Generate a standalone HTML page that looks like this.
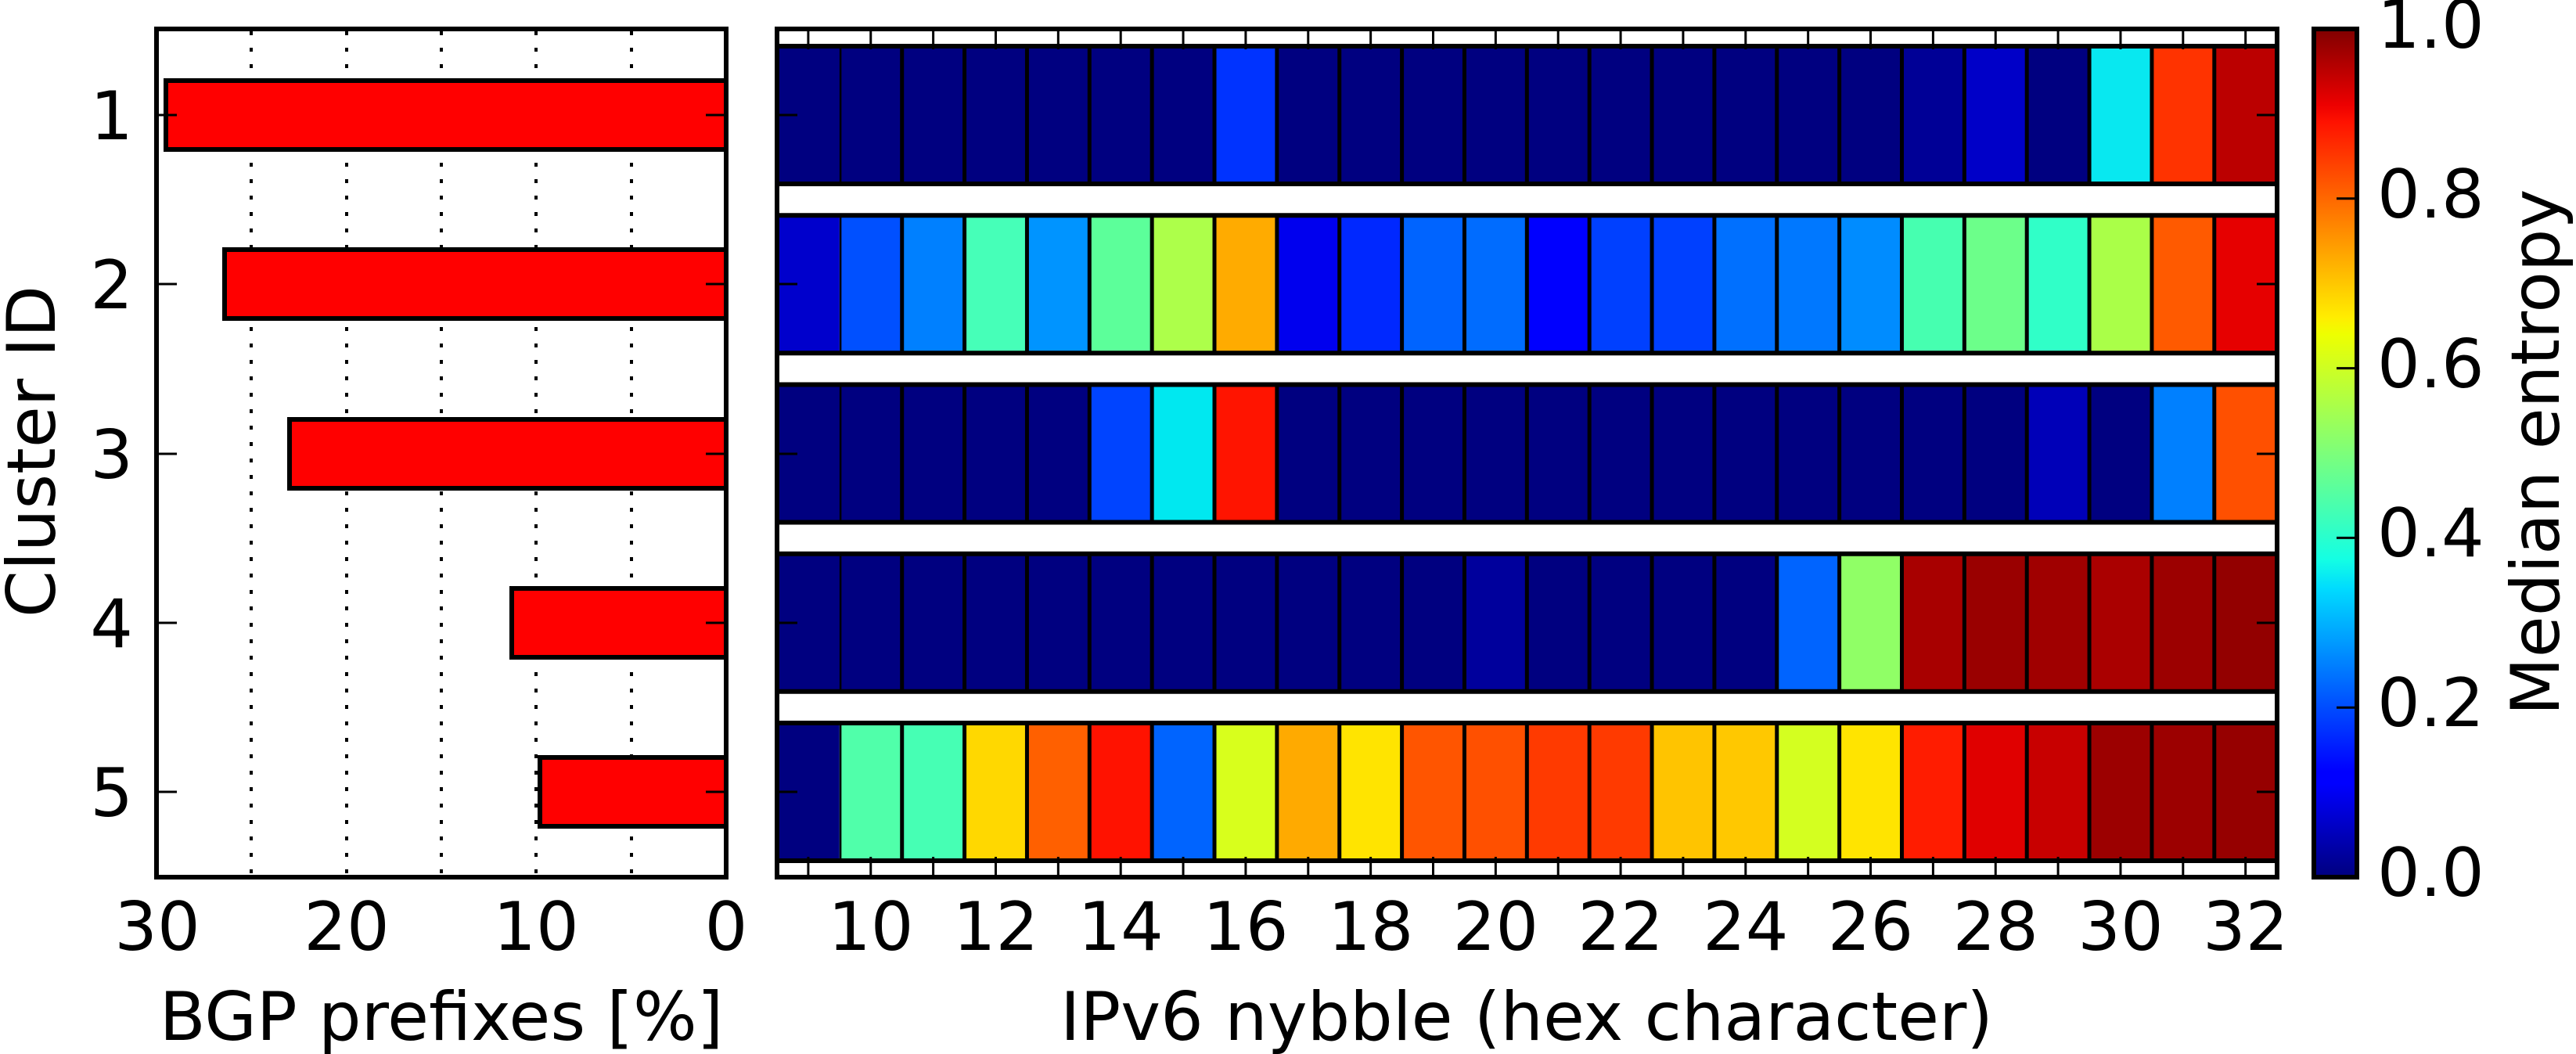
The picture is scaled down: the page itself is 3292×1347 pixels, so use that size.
<!DOCTYPE html>
<html><head><meta charset="utf-8"><style>
html,body{margin:0;padding:0;background:#fff;}
svg{display:block;}
text{font-family:"DejaVu Sans","Liberation Sans",sans-serif;font-size:86px;fill:#000;}
</style></head><body>
<svg width="3292" height="1347" viewBox="0 0 3292 1347" xmlns="http://www.w3.org/2000/svg">
<defs>
<linearGradient id="jet" x1="0" y1="1" x2="0" y2="0">
<stop offset="0" stop-color="#00007f"/><stop offset="0.11" stop-color="#0000ff"/><stop offset="0.125" stop-color="#0000ff"/>
<stop offset="0.34" stop-color="#00dbff"/><stop offset="0.375" stop-color="#14ffe3"/><stop offset="0.5" stop-color="#7dff7a"/>
<stop offset="0.64" stop-color="#eeff00"/><stop offset="0.66" stop-color="#ffed00"/><stop offset="0.89" stop-color="#ff1200"/>
<stop offset="0.91" stop-color="#ed0000"/><stop offset="1" stop-color="#800000"/>
</linearGradient>
</defs>

<!-- LEFT PANEL -->
<g stroke="#000" stroke-width="4" stroke-dasharray="5 16">
<line x1="321" y1="40" x2="321" y2="1118"/><line x1="443" y1="40" x2="443" y2="1118"/>
<line x1="564" y1="40" x2="564" y2="1118"/><line x1="685" y1="40" x2="685" y2="1118"/>
<line x1="807" y1="40" x2="807" y2="1118"/>
</g>
<g fill="#ff0000" stroke="#000" stroke-width="6">
<rect x="212" y="103" width="716" height="88"/>
<rect x="287" y="319" width="641" height="88"/>
<rect x="370" y="536" width="558" height="88"/>
<rect x="654" y="752" width="274" height="88"/>
<rect x="690" y="968" width="238" height="88"/>
</g>
<g stroke="#000" stroke-width="3">
<line x1="200" y1="147" x2="226" y2="147"/><line x1="200" y1="363" x2="226" y2="363"/><line x1="200" y1="580" x2="226" y2="580"/><line x1="200" y1="796" x2="226" y2="796"/><line x1="200" y1="1012" x2="226" y2="1012"/>
<line x1="902" y1="147" x2="928" y2="147"/><line x1="902" y1="363" x2="928" y2="363"/><line x1="902" y1="580" x2="928" y2="580"/><line x1="902" y1="796" x2="928" y2="796"/><line x1="902" y1="1012" x2="928" y2="1012"/>
</g>
<rect x="200" y="37" width="728" height="1084" fill="none" stroke="#000" stroke-width="6"/>
<g text-anchor="end">
<text x="170" y="178">1</text><text x="170" y="394">2</text><text x="170" y="611">3</text><text x="170" y="827">4</text><text x="170" y="1043">5</text>
</g>
<g text-anchor="middle">
<text x="201" y="1214">30</text><text x="443" y="1214">20</text><text x="685" y="1214">10</text><text x="928" y="1214">0</text>
<text x="564" y="1329">BGP prefixes [%]</text>
</g>
<text transform="translate(70,577) rotate(-90)" text-anchor="middle">Cluster ID</text>

<!-- HEATMAP -->
<g transform="translate(993,0) scale(79.86,1)">
<g transform="translate(0,59)">
<rect x="0" width="7" height="176" fill="#000080"/><rect x="7" width="1" height="176" fill="#0033ff"/>
<rect x="8" width="10" height="176" fill="#000080"/><rect x="18" width="1" height="176" fill="#000096"/>
<rect x="19" width="1" height="176" fill="#0000c8"/><rect x="20" width="1" height="176" fill="#000080"/>
<rect x="21" width="1" height="176" fill="#08e8f0"/><rect x="22" width="1" height="176" fill="#ff3300"/>
<rect x="23" width="1" height="176" fill="#bb0000"/>
</g>
<g transform="translate(0,275.25)">
<rect x="0" width="1" height="176" fill="#0000cc"/><rect x="1" width="1" height="176" fill="#0050ff"/>
<rect x="2" width="1" height="176" fill="#0080ff"/><rect x="3" width="1" height="176" fill="#46ffb8"/>
<rect x="4" width="1" height="176" fill="#0094ff"/><rect x="5" width="1" height="176" fill="#5cff9a"/>
<rect x="6" width="1" height="176" fill="#adff4a"/><rect x="7" width="1" height="176" fill="#ffab00"/>
<rect x="8" width="1" height="176" fill="#0000ee"/><rect x="9" width="1" height="176" fill="#0028ff"/>
<rect x="10" width="1" height="176" fill="#0064ff"/><rect x="11" width="1" height="176" fill="#006cff"/>
<rect x="12" width="1" height="176" fill="#0000ff"/><rect x="13" width="1" height="176" fill="#0040ff"/>
<rect x="14" width="1" height="176" fill="#0040ff"/><rect x="15" width="1" height="176" fill="#0070ff"/>
<rect x="16" width="1" height="176" fill="#0078ff"/><rect x="17" width="1" height="176" fill="#008cff"/>
<rect x="18" width="1" height="176" fill="#46ffb0"/><rect x="19" width="1" height="176" fill="#6cff8a"/>
<rect x="20" width="1" height="176" fill="#30ffc8"/><rect x="21" width="1" height="176" fill="#aaff48"/>
<rect x="22" width="1" height="176" fill="#ff5a00"/><rect x="23" width="1" height="176" fill="#e60000"/>
</g>
<g transform="translate(0,491.5)">
<rect x="0" width="5" height="176" fill="#000080"/><rect x="5" width="1" height="176" fill="#0044ff"/>
<rect x="6" width="1" height="176" fill="#00e8f0"/><rect x="7" width="1" height="176" fill="#ff1400"/>
<rect x="8" width="12" height="176" fill="#000080"/><rect x="20" width="1" height="176" fill="#0000b8"/>
<rect x="21" width="1" height="176" fill="#000080"/><rect x="22" width="1" height="176" fill="#0080ff"/>
<rect x="23" width="1" height="176" fill="#ff5000"/>
</g>
<g transform="translate(0,707.75)">
<rect x="0" width="11" height="176" fill="#000080"/><rect x="11" width="1" height="176" fill="#00009c"/>
<rect x="12" width="4" height="176" fill="#000080"/><rect x="16" width="1" height="176" fill="#0064ff"/>
<rect x="17" width="1" height="176" fill="#90ff66"/><rect x="18" width="1" height="176" fill="#a80000"/>
<rect x="19" width="1" height="176" fill="#9a0000"/><rect x="20" width="1" height="176" fill="#a00000"/>
<rect x="21" width="1" height="176" fill="#aa0000"/><rect x="22" width="1" height="176" fill="#9c0000"/>
<rect x="23" width="1" height="176" fill="#930000"/>
</g>
<g transform="translate(0,924)">
<rect x="0" width="1" height="176" fill="#000080"/><rect x="1" width="1" height="176" fill="#50ffaa"/>
<rect x="2" width="1" height="176" fill="#46ffb4"/><rect x="3" width="1" height="176" fill="#ffd800"/>
<rect x="4" width="1" height="176" fill="#ff6000"/><rect x="5" width="1" height="176" fill="#ff1200"/>
<rect x="6" width="1" height="176" fill="#0064ff"/><rect x="7" width="1" height="176" fill="#d8ff1c"/>
<rect x="8" width="1" height="176" fill="#ffaa00"/><rect x="9" width="1" height="176" fill="#ffe400"/>
<rect x="10" width="1" height="176" fill="#ff5500"/><rect x="11" width="1" height="176" fill="#ff5000"/>
<rect x="12" width="1" height="176" fill="#ff3a00"/><rect x="13" width="1" height="176" fill="#ff3a00"/>
<rect x="14" width="1" height="176" fill="#ffc400"/><rect x="15" width="1" height="176" fill="#ffc800"/>
<rect x="16" width="1" height="176" fill="#d4ff20"/><rect x="17" width="1" height="176" fill="#ffe400"/>
<rect x="18" width="1" height="176" fill="#ff1c00"/><rect x="19" width="1" height="176" fill="#e00000"/>
<rect x="20" width="1" height="176" fill="#c80000"/><rect x="21" width="1" height="176" fill="#9c0000"/>
<rect x="22" width="1" height="176" fill="#9c0000"/><rect x="23" width="1" height="176" fill="#960000"/>
</g>
</g>
<!-- vertical separators (dash pattern per row) -->
<g stroke="#000" stroke-width="176" stroke-dasharray="5 74.86" stroke-dashoffset="2.5">
<line x1="1072.86" y1="147" x2="2912" y2="147"/>
<line x1="1072.86" y1="363.25" x2="2912" y2="363.25"/>
<line x1="1072.86" y1="579.5" x2="2912" y2="579.5"/>
<line x1="1072.86" y1="795.75" x2="2912" y2="795.75"/>
<line x1="1072.86" y1="1012" x2="2912" y2="1012"/>
</g>
<g stroke="#000" stroke-width="6">
<line x1="993" y1="59" x2="2910" y2="59"/><line x1="993" y1="235" x2="2910" y2="235"/>
<line x1="993" y1="275.25" x2="2910" y2="275.25"/><line x1="993" y1="451.25" x2="2910" y2="451.25"/>
<line x1="993" y1="491.5" x2="2910" y2="491.5"/><line x1="993" y1="667.5" x2="2910" y2="667.5"/>
<line x1="993" y1="707.75" x2="2910" y2="707.75"/><line x1="993" y1="883.75" x2="2910" y2="883.75"/>
<line x1="993" y1="924" x2="2910" y2="924"/><line x1="993" y1="1100" x2="2910" y2="1100"/>
</g>
<!-- top/bottom ticks -->
<g stroke="#000" stroke-width="26" stroke-dasharray="3 76.86">
<line x1="1031.4" y1="50" x2="2900" y2="50"/>
<line x1="1031.4" y1="1108" x2="2900" y2="1108"/>
</g>
<g stroke="#000" stroke-width="3">
<line x1="993" y1="147" x2="1019" y2="147"/><line x1="993" y1="363" x2="1019" y2="363"/><line x1="993" y1="580" x2="1019" y2="580"/><line x1="993" y1="796" x2="1019" y2="796"/><line x1="993" y1="1012" x2="1019" y2="1012"/>
<line x1="2884" y1="147" x2="2910" y2="147"/><line x1="2884" y1="363" x2="2910" y2="363"/><line x1="2884" y1="580" x2="2910" y2="580"/><line x1="2884" y1="796" x2="2910" y2="796"/><line x1="2884" y1="1012" x2="2910" y2="1012"/>
</g>
<rect x="993" y="37" width="1917" height="1084" fill="none" stroke="#000" stroke-width="6"/>
<g text-anchor="middle">
<text x="1112.8" y="1214">10</text><text x="1272.5" y="1214">12</text><text x="1432.2" y="1214">14</text>
<text x="1591.9" y="1214">16</text><text x="1751.7" y="1214">18</text><text x="1911.4" y="1214">20</text>
<text x="2071.1" y="1214">22</text><text x="2230.8" y="1214">24</text><text x="2390.5" y="1214">26</text>
<text x="2550.3" y="1214">28</text><text x="2710" y="1214">30</text><text x="2869.7" y="1214">32</text>
<text x="1951" y="1329">IPv6 nybble (hex character)</text>
</g>

<!-- COLORBAR -->
<rect x="2957" y="37" width="55" height="1084" fill="url(#jet)" stroke="#000" stroke-width="6"/>
<g stroke="#000" stroke-width="3">
<line x1="2986" y1="904.2" x2="3012" y2="904.2"/><line x1="2986" y1="687.4" x2="3012" y2="687.4"/>
<line x1="2986" y1="470.6" x2="3012" y2="470.6"/><line x1="2986" y1="253.8" x2="3012" y2="253.8"/>
</g>
<g>
<text x="3038" y="1145">0.0</text><text x="3038" y="928">0.2</text><text x="3038" y="711">0.4</text>
<text x="3038" y="495">0.6</text><text x="3038" y="278">0.8</text><text x="3038" y="61">1.0</text>
</g>
<text transform="translate(3270,578) rotate(-90)" text-anchor="middle">Median entropy</text>
</svg>
</body></html>
